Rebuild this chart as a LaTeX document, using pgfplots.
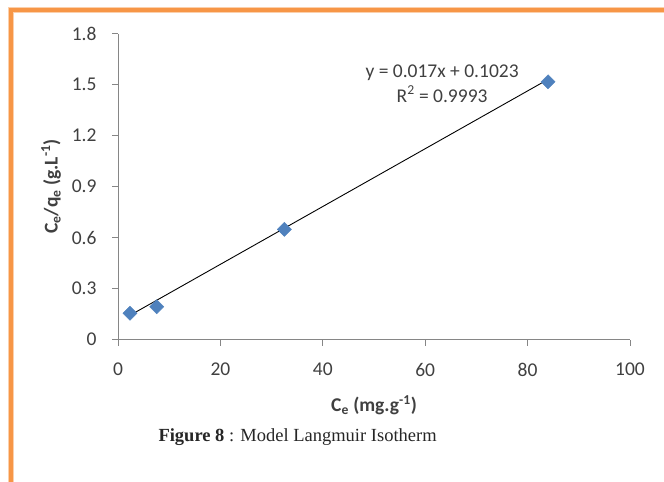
\documentclass[border=0pt]{standalone}
\usepackage{fontspec}
\setmainfont{Carlito}
\newfontfamily\capfont{Liberation Serif}
\usepackage{pgfplots}
\pgfplotsset{compat=1.18}
\definecolor{xlblue}{HTML}{4F81BD}
\definecolor{xlgray}{HTML}{868686}
\definecolor{xlorange}{HTML}{F79646}
\definecolor{txt}{HTML}{404040}
\begin{document}
\begin{tikzpicture}
\useasboundingbox (0,0) rectangle (664bp,-482bp);
\draw[xlorange!45, line width=5.5bp] (11bp,-482bp) -- (11bp,-10bp) -- (664bp,-10bp);
\draw[xlorange, line width=3.5bp] (11bp,-482bp) -- (11bp,-10bp) -- (664bp,-10bp);
\begin{axis}[
  at={(118bp,-339.5bp)}, anchor=south west,
  scale only axis, width=512bp, height=306bp,
  xmin=0, xmax=100, ymin=0, ymax=1.8,
  xtick={0,20,40,60,80,100},
  ytick={0,0.3,0.6,0.9,1.2,1.5,1.8},
  yticklabels={0,0.3,0.6,0.9,1.2,1.5,1.8},
  axis lines=left,
  axis line style={xlgray, line width=0.9bp, -},
  tick style={xlgray, line width=0.9bp},
  tick align=outside,
  major tick length=6bp,
  /pgf/number format/assume math mode=true,
  tick label style={font=\fontsize{19.5bp}{22bp}\selectfont, text=txt},
  yticklabel style={xshift=-12bp},
  xticklabel style={yshift=-14bp},
  label style={font=\fontsize{19.5bp}{22bp}\selectfont\bfseries, text=txt},
  xlabel style={yshift=-12bp},
  ylabel style={yshift=4bp},
  xlabel={C\textsubscript{e} (mg.g\textsuperscript{-1})},
  ylabel={C\textsubscript{e}/q\textsubscript{e} (g.L\textsuperscript{-1})},
  clip=false,
]
\addplot[black, line width=0.9bp, no marks] coordinates {(2.3,0.1414) (84,1.5303)};
\addplot[only marks, mark=square*, mark size=5bp, mark options={rotate=45, fill=xlblue, draw=xlblue}] coordinates {
  (2.34,0.154) (7.56,0.193) (32.5,0.648) (84.0,1.516)
};
\node[font=\fontsize{19.5bp}{22bp}\selectfont, text=txt, align=center] at (axis cs:63.3,1.505) {y = 0.017x + 0.1023\\[3bp] R\textsuperscript{2} = 0.9993};
\end{axis}
\node[anchor=west, font=\capfont\fontsize{18.5bp}{21bp}\selectfont, text=black!85] at (155bp,-437bp) {\textbf{Figure 8} : Model Langmuir Isotherm};
\end{tikzpicture}
\end{document}
